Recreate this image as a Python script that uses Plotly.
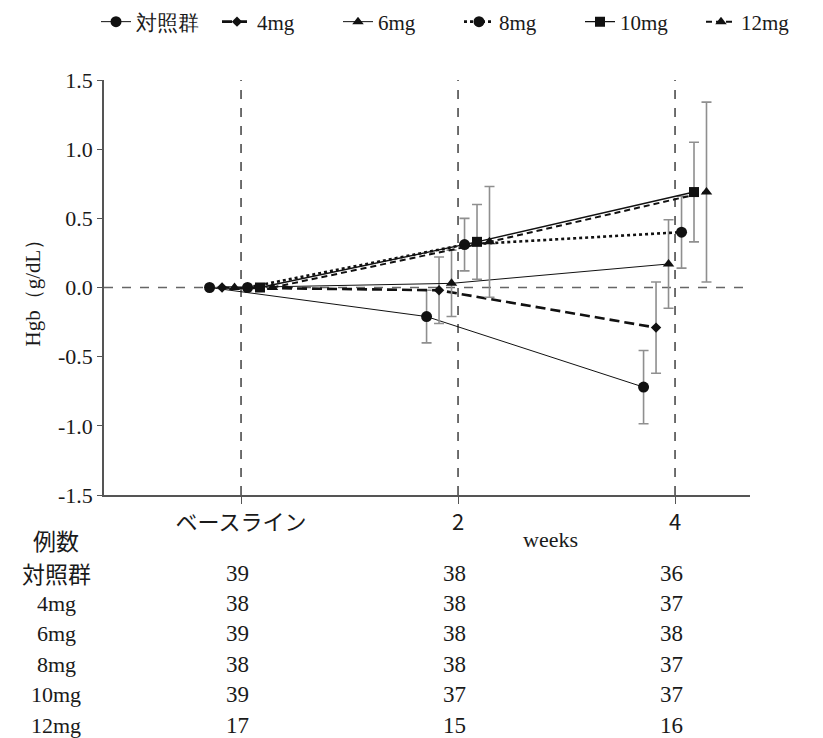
import plotly.graph_objects as go

# ---- data ----
weeks = [0, 2, 4]
tick_text = ["ベースライン", "2", "4"]
y_ticks = [-1.5, -1.0, -0.5, 0.0, 0.5, 1.0, 1.5]
y_tick_text = ["-1.5", "-1.0", "-0.5", "0.0", "0.5", "1.0", "1.5"]
groups = ["対照群", "4mg", "6mg", "8mg", "10mg", "12mg"]

mean_control = [0.0, -0.21, -0.72]
se_control = [0.0, 0.19, 0.265]
mean_4mg = [0.0, -0.02, -0.29]
se_4mg = [0.0, 0.24, 0.33]
mean_6mg = [0.0, 0.03, 0.17]
se_6mg = [0.0, 0.24, 0.32]
mean_8mg = [0.0, 0.31, 0.40]
se_8mg = [0.0, 0.19, 0.26]
mean_10mg = [0.0, 0.33, 0.69]
se_10mg = [0.0, 0.27, 0.36]
mean_12mg = [0.0, 0.33, 0.69]
se_12mg = [0.0, 0.40, 0.65]

n_control = [39, 38, 36]
n_4mg = [38, 38, 37]
n_6mg = [39, 38, 38]
n_8mg = [38, 38, 37]
n_10mg = [39, 37, 37]
n_12mg = [17, 15, 16]

means = [mean_control, mean_4mg, mean_6mg, mean_8mg, mean_10mg, mean_12mg]
ses = [se_control, se_4mg, se_6mg, se_8mg, se_10mg, se_12mg]
counts = [n_control, n_4mg, n_6mg, n_8mg, n_10mg, n_12mg]

# ---- styles ----
offsets = [-0.29, -0.175, -0.06, 0.06, 0.175, 0.29]
dashes = ["solid", "10px,5px", "solid", "dot", "solid", "6px,4px"]
widths = [1.0, 2.6, 1.0, 2.6, 1.4, 2.0]
symbols = ["circle", "diamond", "triangle-up", "circle", "square", "triangle-up"]
msizes = [11, 8, 10, 11, 10, 10]
LINE = "#111111"
ERR = "#8f8f8f"
TXT = "#1a1a1a"
SERIF = "Liberation Serif, Times New Roman, serif"
CJK = "Noto Sans CJK JP"

fig = go.Figure()
for g, m, s, off, d, w, sym, ms in zip(groups, means, ses, offsets, dashes, widths, symbols, msizes):
    fig.add_trace(go.Scatter(
        x=[wk + off for wk in weeks], y=m, name=g, mode="lines+markers",
        line=dict(color=LINE, width=w, dash=d),
        marker=dict(symbol=sym, size=ms, color=LINE),
        error_y=dict(type="data", array=s, visible=True, color=ERR, thickness=1.6, width=5),
    ))

x_lo, x_hi = -1.263, 4.691
shapes = []
for wk in weeks:
    shapes.append(dict(type="line", xref="x", yref="y", x0=wk, x1=wk, y0=-1.5, y1=1.5,
                       line=dict(color="#222", width=1.3, dash="dash"), layer="below"))
shapes.append(dict(type="line", xref="paper", yref="y", x0=0, x1=1, y0=0, y1=0,
                   line=dict(color="#666", width=1.3, dash="dash"), layer="below"))

# ---- layout geometry (page has an 8px body margin) ----
PAGE_OFF = 8
plot_left, plot_right = 104, 750
plot_top, plot_bottom = 80, 495
plot_w = plot_right - plot_left
plot_h = plot_bottom - plot_top
m_l = plot_left - PAGE_OFF
m_t = plot_top - PAGE_OFF
m_r = 823 - m_l - plot_w
m_b = 738 - m_t - plot_h

def px(pix):
    return (pix - plot_left) / plot_w
def py(pix):
    return (plot_bottom - pix) / plot_h

annotations = []
label_x = px(56)
def ann(x, y, text, fam, size, xref="paper"):
    return dict(x=x, y=y, xref=xref, yref="paper", text=text, showarrow=False,
                xanchor="center", yanchor="middle", font=dict(family=fam, size=size, color=TXT))

annotations.append(ann(label_x, py(540), "例数", CJK, 23))
annotations.append(ann(2.85, py(539), "weeks", SERIF, 22, xref="x"))
row0 = 573
row_step = 30.4
for i, (g, cnt) in enumerate(zip(groups, counts)):
    ypix = row0 + i * row_step
    if i == 0:
        annotations.append(ann(label_x, py(ypix), g, CJK, 23))
    else:
        annotations.append(ann(label_x, py(ypix), g, SERIF, 22))
    for wk, c in zip(weeks, cnt):
        annotations.append(ann(wk - 0.03, py(ypix), str(c), SERIF, 23, xref="x"))

fig.update_layout(
    width=823, height=738,
    margin=dict(l=m_l, r=m_r, t=m_t, b=m_b, autoexpand=False),
    paper_bgcolor="white", plot_bgcolor="white",
    font=dict(family=SERIF, size=20, color=TXT),
    showlegend=True,
    legend=dict(orientation="h", x=px(96), xanchor="left", y=py(22), yanchor="middle",
                font=dict(family=SERIF, size=21, color=TXT), itemwidth=30,
                entrywidth=76, entrywidthmode="pixels",
                traceorder="normal", bgcolor="rgba(0,0,0,0)"),
    xaxis=dict(range=[x_lo, x_hi], tickvals=weeks, ticktext=tick_text, showgrid=False,
               zeroline=False, showline=True, linecolor="#555", linewidth=1.5,
               ticks="outside", ticklen=7, tickcolor="#555",
               tickfont=dict(family=CJK, size=22, color=TXT)),
    yaxis=dict(range=[-1.5, 1.5], tickvals=y_ticks, ticktext=y_tick_text,
               showgrid=False, zeroline=False, showline=True,
               linecolor="#555", linewidth=1.5, ticks="outside", ticklen=5, tickcolor="#555",
               tickfont=dict(family=SERIF, size=22, color=TXT),
               title=dict(text="Hgb（g/dL）", font=dict(family=SERIF, size=21, color=TXT), standoff=12)),
    shapes=shapes, annotations=annotations,
)

fig.write_html("out.html")
